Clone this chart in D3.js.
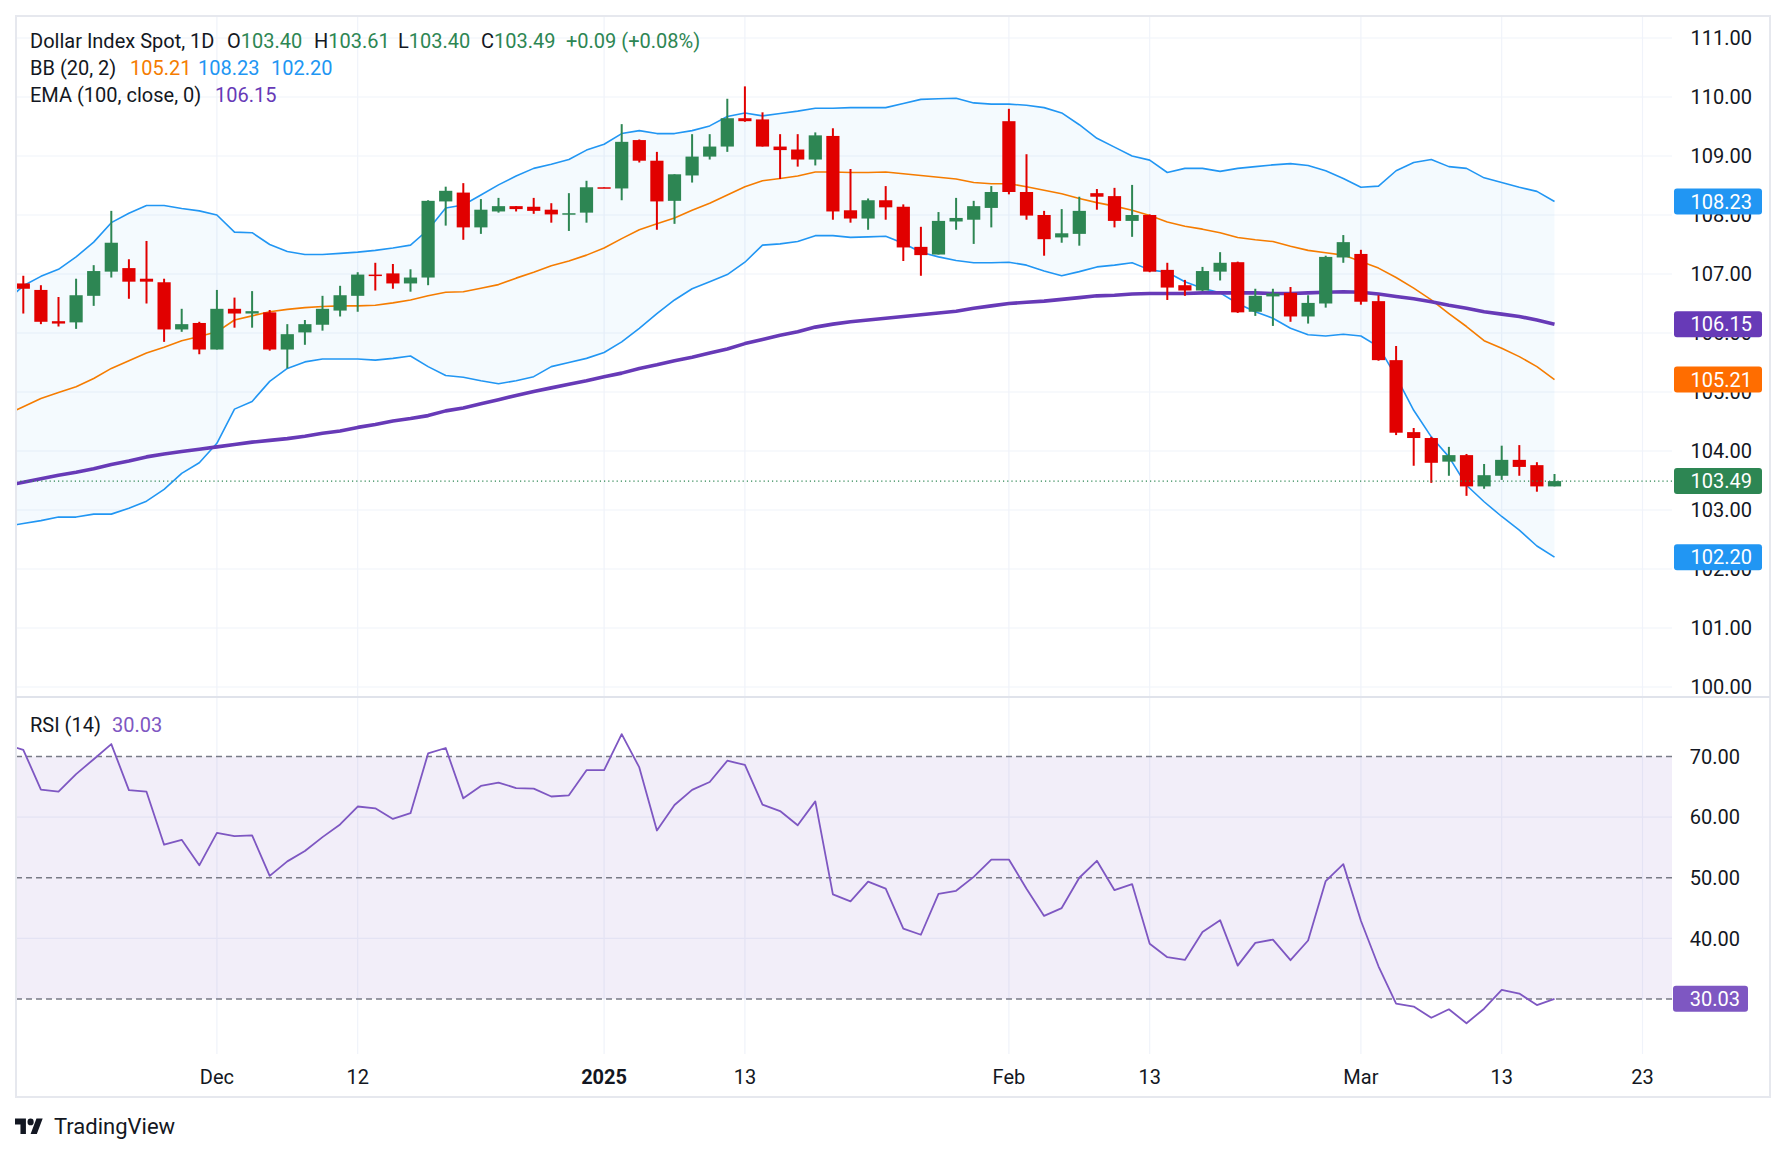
<!DOCTYPE html>
<html>
<head>
<meta charset="utf-8">
<script src="https://cdn.jsdelivr.net/npm/d3@7"></script>
<style>
  html, body { margin: 0; padding: 0; background: #ffffff; }
  svg { display: block; }
  text { font-family: Roboto, "Liberation Sans", sans-serif; }
</style>
</head>
<body>
<svg id="chart" width="1786" height="1154"></svg>
<script>
// ---- data (daily bars, Nov 15 2024 .. Mar 18 2025, weekdays) ----
var openVals = [106.84,106.73,106.20,106.18,106.63,107.04,107.10,106.92,106.86,106.06,
  106.17,105.72,106.41,106.33,106.35,105.72,106.01,106.14,106.38,106.63,
  106.99,107.01,106.84,106.94,108.23,108.38,107.79,108.06,108.15,108.14,
  108.09,108.02,108.04,108.47,108.45,109.27,108.92,108.24,108.67,108.99,
  109.16,109.64,109.62,109.16,109.11,108.94,109.34,108.08,107.94,108.25,
  108.14,107.46,107.33,107.89,107.92,108.12,109.59,108.39,108.00,107.62,
  107.68,108.37,108.32,107.90,108.00,107.07,106.81,106.72,107.04,107.20,
  106.36,106.62,106.68,106.28,106.50,107.28,107.34,106.54,105.54,104.32,
  104.22,103.82,103.93,103.40,103.58,103.85,103.76,103.40];
var highVals = [106.97,106.81,106.61,106.92,107.15,108.07,107.25,107.56,106.92,106.41,
  106.19,106.73,106.60,106.71,106.39,106.15,106.22,106.63,106.80,107.03,
  107.19,107.17,107.08,108.25,108.48,108.54,108.27,108.29,108.15,108.29,
  108.20,108.37,108.58,108.47,109.54,109.28,109.07,108.69,109.37,109.37,
  109.97,110.18,109.74,109.37,109.37,109.40,109.47,108.78,108.28,108.49,
  108.18,107.80,108.05,108.29,108.24,108.49,109.80,109.03,108.07,108.10,
  108.31,108.44,108.46,108.51,108.01,107.19,106.90,107.12,107.37,107.21,
  106.75,106.75,106.78,106.64,107.31,107.66,107.41,106.64,105.78,104.39,
  104.24,104.07,103.95,103.78,104.09,104.10,103.81,103.61];
var lowVals = [106.33,106.15,106.11,106.07,106.46,106.94,106.58,106.50,105.85,106.02,
  105.64,105.72,106.09,106.09,105.70,105.40,105.80,106.04,106.28,106.36,
  106.72,106.75,106.70,106.81,107.82,107.58,107.68,108.04,108.06,108.02,
  107.87,107.73,107.87,108.46,108.25,108.89,107.75,107.85,108.55,108.94,
  109.07,109.58,109.16,108.61,108.82,108.84,107.92,107.87,107.75,107.92,
  107.22,106.97,107.33,107.75,107.51,107.79,108.35,107.92,107.31,107.53,
  107.48,108.09,107.79,107.63,107.03,106.56,106.63,106.71,106.89,106.34,
  106.29,106.12,106.19,106.16,106.43,107.19,106.48,105.53,104.27,103.75,
  103.46,103.58,103.24,103.36,103.51,103.58,103.31,103.40];
var closeVals = [106.75,106.19,106.16,106.64,107.05,107.53,106.87,106.87,106.06,106.15,
  105.72,106.41,106.33,106.37,105.72,105.98,106.15,106.41,106.64,106.99,
  106.97,106.84,106.94,108.24,108.41,107.79,108.09,108.15,108.10,108.07,
  108.01,108.03,108.47,108.46,109.24,108.92,108.23,108.69,108.99,109.16,
  109.64,109.59,109.16,109.10,108.94,109.35,108.06,107.94,108.25,108.13,
  107.45,107.32,107.90,107.95,108.15,108.39,108.39,107.99,107.59,107.69,
  108.07,108.31,107.90,108.00,107.04,106.77,106.72,107.05,107.19,106.35,
  106.63,106.67,106.28,106.51,107.29,107.54,106.53,105.54,104.31,104.22,
  103.80,103.93,103.40,103.59,103.85,103.73,103.40,103.49];

// indicator series start one bar before the first visible candle
var indicatorOffset = -1;
var bbUpper = [106.53,106.80,106.96,107.08,107.29,107.54,107.87,108.03,108.16,108.16,
  108.11,108.07,108.00,107.71,107.70,107.50,107.38,107.33,107.33,107.35,
  107.37,107.40,107.44,107.49,107.75,108.12,108.17,108.34,108.51,108.66,
  108.79,108.86,108.94,109.10,109.20,109.38,109.43,109.38,109.38,109.43,
  109.51,109.67,109.73,109.68,109.72,109.76,109.81,109.81,109.82,109.82,
  109.82,109.89,109.96,109.97,109.98,109.90,109.88,109.88,109.86,109.82,
  109.73,109.53,109.30,109.15,109.00,108.93,108.72,108.79,108.79,108.74,
  108.79,108.82,108.85,108.87,108.84,108.75,108.62,108.47,108.49,108.75,
  108.89,108.94,108.82,108.79,108.63,108.55,108.47,108.40,108.23];
var bbBasis = [104.61,104.75,104.89,104.99,105.09,105.23,105.40,105.53,105.66,105.76,
  105.87,105.94,106.02,106.22,106.29,106.36,106.40,106.43,106.45,106.46,
  106.46,106.47,106.51,106.56,106.63,106.69,106.70,106.76,106.82,106.93,
  107.03,107.14,107.22,107.32,107.44,107.60,107.75,107.85,107.95,108.08,
  108.20,108.34,108.48,108.58,108.62,108.66,108.73,108.73,108.72,108.72,
  108.73,108.70,108.67,108.64,108.61,108.55,108.53,108.53,108.48,108.42,
  108.36,108.28,108.21,108.15,108.08,107.99,107.88,107.81,107.76,107.70,
  107.62,107.58,107.55,107.47,107.40,107.36,107.32,107.21,107.10,106.94,
  106.76,106.56,106.33,106.11,105.87,105.74,105.60,105.43,105.21];
var bbLower = [102.72,102.77,102.82,102.88,102.88,102.93,102.93,103.03,103.15,103.35,
  103.62,103.80,104.13,104.71,104.84,105.18,105.40,105.51,105.56,105.56,
  105.56,105.54,105.57,105.61,105.43,105.28,105.25,105.19,105.14,105.19,
  105.26,105.43,105.50,105.57,105.67,105.85,106.08,106.33,106.56,106.75,
  106.87,106.99,107.20,107.49,107.51,107.55,107.65,107.65,107.62,107.63,
  107.64,107.52,107.37,107.29,107.23,107.19,107.19,107.20,107.15,107.05,
  106.97,107.04,107.12,107.15,107.19,107.07,107.03,106.87,106.76,106.68,
  106.50,106.36,106.25,106.08,105.97,105.95,105.98,105.95,105.77,105.26,
  104.69,104.24,103.90,103.42,103.14,102.89,102.66,102.39,102.20];
var ema100 = [103.41,103.47,103.53,103.59,103.64,103.70,103.77,103.83,103.90,103.95,
  103.99,104.03,104.07,104.11,104.15,104.18,104.21,104.25,104.30,104.34,
  104.40,104.45,104.51,104.55,104.60,104.68,104.73,104.80,104.87,104.94,
  105.01,105.07,105.13,105.19,105.26,105.32,105.40,105.46,105.53,105.59,
  105.66,105.73,105.82,105.89,105.96,106.02,106.10,106.15,106.19,106.22,
  106.25,106.28,106.31,106.34,106.37,106.42,106.46,106.50,106.52,106.54,
  106.57,106.60,106.63,106.64,106.66,106.67,106.67,106.67,106.68,106.68,
  106.68,106.68,106.67,106.67,106.68,106.69,106.70,106.69,106.66,106.62,
  106.58,106.53,106.47,106.42,106.36,106.32,106.28,106.22,106.15];
var rsi14 = [72.0,71.1,64.55,64.2,67.1,69.55,72.05,64.45,64.2,55.45,
  56.25,52.05,57.4,56.85,57.0,50.3,52.7,54.4,56.7,58.8,
  61.75,61.45,59.7,60.65,70.5,71.4,63.1,65.15,65.7,64.8,
  64.7,63.4,63.6,67.75,67.75,73.7,68.2,57.8,62.0,64.5,
  65.8,69.3,68.6,62.05,61.0,58.65,62.6,47.25,46.1,49.35,
  48.2,41.6,40.6,47.35,47.85,50.15,53.0,53.0,48.2,43.7,
  45.0,50.0,52.8,47.95,48.95,39.1,36.9,36.45,41.05,43.0,
  35.5,39.25,39.8,36.4,39.65,49.45,52.25,42.9,35.4,29.25,
  28.75,26.9,28.3,26.0,28.4,31.5,30.9,29.0,30.03];

// legend change figures as shown on the chart
var changeAbs = "+0.09";
var changePct = "(+0.08%)";

// time axis: bar index of each label
var tickBars = [11, 19, 33, 41, 56, 64, 76, 84, 92];
var tickLabels = ["Dec", "12", "2025", "13", "Feb", "13", "Mar", "13", "23"];
var tickBold = [false, false, true, false, false, false, false, false, false];
var priceTicks = [100, 101, 102, 103, 104, 105, 106, 107, 108, 109, 110, 111];
var rsiTicks = [30, 40, 50, 60, 70];
var rsiLevels = [70, 50, 30];

// ---- layout ----
var frameL = 16, frameT = 16, frameR = 1770, frameB = 1097;
var plotR = 1672, paneSplit = 697, rsiBottom = 1054;

var green = "#2d8653", red = "#e10000";
var blue = "#2196f3", orange = "#f57c00", purple = "#673ab7", rsiColor = "#7e57c2";
var ink = "#131722", grid = "#f0f3fa";

var svg = d3.select("#chart");
svg.append("rect").attr("width", 1786).attr("height", 1154).attr("fill", "#ffffff");

var n = closeVals.length;
var x = d3.scaleLinear().domain([0, n - 1]).range([23.3, 1554.5]);
var yP = d3.scaleLinear().domain([100, 111]).range([687, 38]);
var yR = d3.scaleLinear().domain([30, 70]).range([999, 756.5]);

var defs = svg.append("defs");
defs.append("clipPath").attr("id", "clipPrice").append("rect")
  .attr("x", frameL).attr("y", frameT).attr("width", plotR - frameL).attr("height", paneSplit - frameT);
defs.append("clipPath").attr("id", "clipRsi").append("rect")
  .attr("x", frameL).attr("y", paneSplit).attr("width", plotR - frameL).attr("height", rsiBottom - paneSplit);

// ---- grid ----
var gridG = svg.append("g");
gridG.selectAll(".hgrid").data(priceTicks).enter().append("line")
  .attr("x1", frameL).attr("x2", plotR)
  .attr("y1", function(d) { return yP(d); }).attr("y2", function(d) { return yP(d); })
  .attr("stroke", grid).attr("stroke-width", 1.2);
gridG.selectAll(".rgrid").data([60, 40]).enter().append("line")
  .attr("x1", frameL).attr("x2", plotR)
  .attr("y1", function(d) { return yR(d); }).attr("y2", function(d) { return yR(d); })
  .attr("stroke", grid).attr("stroke-width", 1.2);
gridG.selectAll(".vgrid").data(tickBars).enter().append("line")
  .attr("x1", function(d) { return x(d); }).attr("x2", function(d) { return x(d); })
  .attr("y1", frameT).attr("y2", rsiBottom)
  .attr("stroke", grid).attr("stroke-width", 1.2);

// ---- price pane ----
var pg = svg.append("g").attr("clip-path", "url(#clipPrice)");
var xi = function(d, k) { return x(k + indicatorOffset); };

pg.append("path")
  .datum(bbUpper)
  .attr("d", d3.area().x(xi)
    .y0(function(d, k) { return yP(bbLower[k]); })
    .y1(function(d) { return yP(d); }))
  .attr("fill", "rgba(33,150,243,0.05)");

function priceLine(values, color, width) {
  pg.append("path").datum(values)
    .attr("d", d3.line().x(xi).y(function(d) { return yP(d); }))
    .attr("fill", "none").attr("stroke", color).attr("stroke-width", width)
    .attr("stroke-linejoin", "round");
}
priceLine(bbUpper, blue, 1.6);
priceLine(bbLower, blue, 1.6);
priceLine(bbBasis, orange, 1.6);
priceLine(ema100, purple, 3.6);

var bars = d3.range(n).map(function(i) {
  return { i: i, o: openVals[i], h: highVals[i], l: lowVals[i], c: closeVals[i] };
});
var bodyW = 13.2;
var cg = pg.append("g");
cg.selectAll(".wick").data(bars).enter().append("line")
  .attr("x1", function(d) { return x(d.i); }).attr("x2", function(d) { return x(d.i); })
  .attr("y1", function(d) { return yP(d.h); }).attr("y2", function(d) { return yP(d.l); })
  .attr("stroke", function(d) { return d.c >= d.o ? green : red; })
  .attr("stroke-width", 2);
cg.selectAll(".body").data(bars).enter().append("rect")
  .attr("x", function(d) { return x(d.i) - bodyW / 2; })
  .attr("y", function(d) { return yP(Math.max(d.o, d.c)); })
  .attr("width", bodyW)
  .attr("height", function(d) { return Math.max(1.5, Math.abs(yP(d.o) - yP(d.c))); })
  .attr("fill", function(d) { return d.c >= d.o ? green : red; });

// last price dotted line
var lastClose = closeVals[n - 1];
svg.append("line")
  .attr("x1", frameL).attr("x2", plotR)
  .attr("y1", yP(lastClose)).attr("y2", yP(lastClose))
  .attr("stroke", green).attr("stroke-width", 1.2).attr("stroke-dasharray", "1.2,3");

// ---- RSI pane ----
var rg = svg.append("g").attr("clip-path", "url(#clipRsi)");
rg.append("rect")
  .attr("x", frameL).attr("width", plotR - frameL)
  .attr("y", yR(70)).attr("height", yR(30) - yR(70))
  .attr("fill", "rgba(126,87,194,0.1)");
rg.selectAll(".lvl").data(rsiLevels).enter().append("line")
  .attr("x1", frameL).attr("x2", plotR)
  .attr("y1", function(d) { return yR(d); }).attr("y2", function(d) { return yR(d); })
  .attr("stroke", "#787b86").attr("stroke-width", 1.3).attr("stroke-dasharray", "6,4");
rg.append("path").datum(rsi14)
  .attr("d", d3.line().x(xi).y(function(d) { return yR(d); }))
  .attr("fill", "none").attr("stroke", rsiColor).attr("stroke-width", 1.8)
  .attr("stroke-linejoin", "round");

// ---- frame and separators ----
svg.append("rect")
  .attr("x", frameL).attr("y", frameT)
  .attr("width", frameR - frameL).attr("height", frameB - frameT)
  .attr("fill", "none").attr("stroke", "#e6e8ee").attr("stroke-width", 2);
svg.append("line")
  .attr("x1", frameL).attr("x2", frameR).attr("y1", paneSplit).attr("y2", paneSplit)
  .attr("stroke", "#e0e3eb").attr("stroke-width", 2);

// ---- price axis ----
var axG = svg.append("g").attr("font-size", 20).attr("fill", ink);
axG.selectAll(".pt").data(priceTicks).enter().append("text")
  .attr("x", 1752).attr("y", function(d) { return yP(d); })
  .attr("dy", "0.36em").attr("text-anchor", "end")
  .text(function(d) { return d.toFixed(2); });
axG.selectAll(".rt").data(rsiTicks).enter().append("text")
  .attr("x", 1740).attr("y", function(d) { return yR(d); })
  .attr("dy", "0.36em").attr("text-anchor", "end")
  .text(function(d) { return d.toFixed(2); });

var lastIdx = n - 1 - indicatorOffset;
var priceBoxes = [
  { v: bbUpper[lastIdx], c: blue },
  { v: ema100[lastIdx], c: purple },
  { v: bbBasis[lastIdx], c: "#ff6d00" },
  { v: lastClose, c: green },
  { v: bbLower[lastIdx], c: blue }
];
var bx = svg.append("g").selectAll("g").data(priceBoxes).enter().append("g");
bx.append("rect")
  .attr("x", 1674).attr("width", 88)
  .attr("y", function(d) { return yP(d.v) - 13; }).attr("height", 26)
  .attr("rx", 3).attr("fill", function(d) { return d.c; });
bx.append("text")
  .attr("x", 1752).attr("y", function(d) { return yP(d.v); })
  .attr("dy", "0.36em").attr("text-anchor", "end")
  .attr("font-size", 20).attr("fill", "#ffffff")
  .text(function(d) { return d.v.toFixed(2); });

var lastRsi = rsi14[lastIdx];
svg.append("rect")
  .attr("x", 1673).attr("width", 75)
  .attr("y", yR(lastRsi) - 13).attr("height", 26)
  .attr("rx", 3).attr("fill", rsiColor);
svg.append("text")
  .attr("x", 1740).attr("y", yR(lastRsi)).attr("dy", "0.36em")
  .attr("text-anchor", "end").attr("font-size", 20).attr("fill", "#ffffff")
  .text(lastRsi.toFixed(2));

// ---- time axis ----
svg.append("g").selectAll("text").data(tickBars).enter().append("text")
  .attr("x", function(d) { return x(d); }).attr("y", 1084)
  .attr("text-anchor", "middle").attr("font-size", 20).attr("fill", ink)
  .attr("font-weight", function(d, k) { return tickBold[k] ? 700 : 400; })
  .text(function(d, k) { return tickLabels[k]; });

// ---- legends ----
var lg = svg.append("g").attr("font-size", 20);
function legendText(px, py, str, color) {
  lg.append("text").attr("x", px).attr("y", py).attr("fill", color).text(str);
}
var lastOpen = openVals[n - 1], lastHigh = highVals[n - 1], lastLow = lowVals[n - 1];
legendText(30, 48, "Dollar Index Spot, 1D", ink);
var ohlc = [["O", lastOpen, 227], ["H", lastHigh, 314], ["L", lastLow, 398], ["C", lastClose, 481]];
ohlc.forEach(function(p) {
  var t = lg.append("text").attr("x", p[2]).attr("y", 48).attr("fill", ink);
  t.append("tspan").text(p[0]);
  t.append("tspan").attr("fill", green).text(p[1].toFixed(2));
});
legendText(566, 48, changeAbs + " " + changePct, green);

legendText(30, 75, "BB (20, 2)", ink);
legendText(130, 75, bbBasis[lastIdx].toFixed(2), orange);
legendText(198, 75, bbUpper[lastIdx].toFixed(2), blue);
legendText(271, 75, bbLower[lastIdx].toFixed(2), blue);

legendText(30, 102, "EMA (100, close, 0)", ink);
legendText(215, 102, ema100[lastIdx].toFixed(2), purple);

legendText(30, 732, "RSI (14)", ink);
legendText(112, 732, lastRsi.toFixed(2), rsiColor);

// ---- TradingView mark ----
var logo = svg.append("g").attr("transform", "translate(15,1115) scale(0.78,0.86)");
logo.append("path").attr("d", "M14 22H7V11H0V4h14v18zM28 22h-8l7.5-18h8L28 22z").attr("fill", ink);
logo.append("circle").attr("cx", 20).attr("cy", 8).attr("r", 4).attr("fill", ink);
svg.append("text").attr("x", 54).attr("y", 1134)
  .attr("font-size", 22).attr("fill", ink).text("TradingView");
</script>
</body>
</html>
